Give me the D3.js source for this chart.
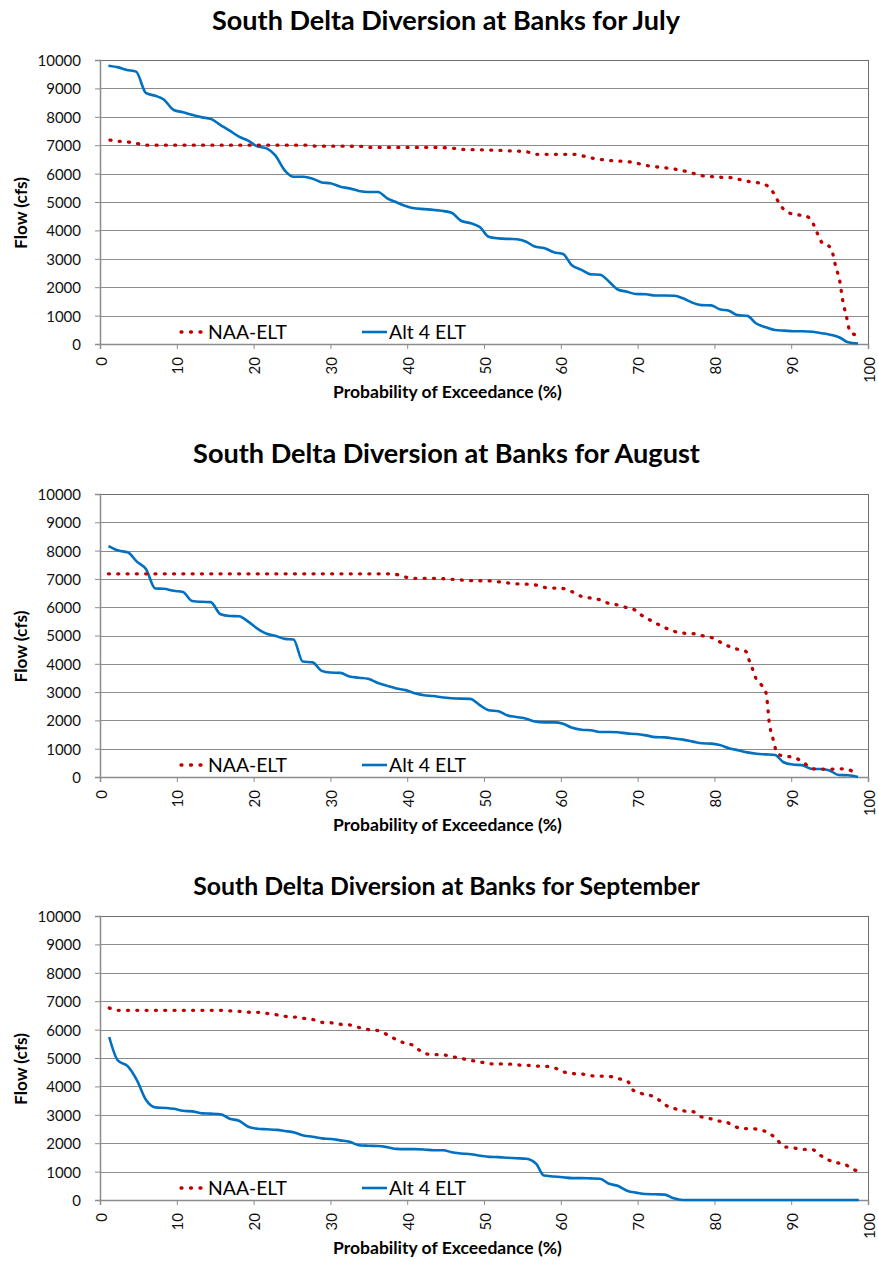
<!DOCTYPE html>
<html>
<head>
<meta charset="utf-8">
<script src="https://cdn.jsdelivr.net/npm/d3@7"></script>
<style>
  html, body { margin: 0; padding: 0; background: #fff; }
  svg { display: block; }
  text { font-family: Lato, "Open Sans", sans-serif; }
</style>
</head>
<body>
<svg id="chart" width="878" height="1261"></svg>
<script>
// ---------- data ----------
const titles = [
  "South Delta Diversion at Banks for July",
  "South Delta Diversion at Banks for August",
  "South Delta Diversion at Banks for September"
];
const seriesNames = ["NAA-ELT", "Alt 4 ELT"];
const xTicks = [0, 10, 20, 30, 40, 50, 60, 70, 80, 90, 100];
const yTicks = [0, 1000, 2000, 3000, 4000, 5000, 6000, 7000, 8000, 9000, 10000];
const xTitle = "Probability of Exceedance (%)";
const yTitle = "Flow (cfs)";

// [probability of exceedance %, flow cfs]
const julyNAA = [[1.3,7180],[2.4,7140],[3.7,7110],[4.8,7060],[6.1,7000],[27,7000],[28,6970],[34,6960],[35.2,6920],[43.6,6920],[46,6890],[47.3,6850],[50.8,6830],[53.4,6800],[55.5,6770],[56.8,6680],[61.6,6680],[62.9,6620],[64.2,6540],[66.4,6460],[69,6410],[70,6360],[71.3,6280],[73.7,6200],[75,6150],[76.1,6090],[77.2,6010],[78.3,5930],[79.8,5890],[80.9,5870],[82.2,5860],[83.2,5800],[84.5,5720],[85.6,5680],[86.7,5600],[87.6,5360],[88.2,5070],[88.9,4780],[89.7,4620],[90.8,4550],[91.9,4510],[92.8,4270],[93.4,3900],[94.1,3540],[94.9,3450],[95.4,3190],[95.8,2720],[96.3,2250],[96.7,1550],[97.2,960],[97.7,410],[98.8,300]];
const julyAlt = [[1.1,9800],[2.4,9740],[3.5,9650],[4.7,9590],[6.0,8830],[7.2,8740],[8.3,8610],[9.6,8240],[10.8,8160],[12.1,8060],[13.3,7980],[14.4,7930],[15.7,7710],[16.9,7510],[18.1,7300],[19.3,7160],[20.4,6970],[21.7,6890],[22.8,6650],[24.1,6100],[25.2,5890],[26.5,5890],[27.7,5820],[28.9,5690],[30,5660],[31.3,5540],[32.5,5480],[33.7,5390],[34.9,5350],[36.2,5350],[37.4,5130],[38.6,4990],[39.8,4860],[40.9,4780],[42.2,4750],[43.5,4720],[44.5,4690],[45.8,4620],[47.0,4340],[48.3,4250],[49.5,4110],[50.6,3780],[51.9,3720],[53.2,3700],[54.3,3690],[55.5,3600],[56.6,3430],[57.9,3370],[59.1,3230],[60.3,3170],[61.4,2780],[62.7,2610],[63.9,2450],[65.1,2440],[66.3,2190],[67.4,1920],[68.6,1840],[69.8,1760],[71.1,1750],[72.3,1710],[73.5,1710],[74.8,1700],[75.9,1610],[77.1,1460],[78.3,1370],[79.6,1360],[80.7,1220],[81.9,1170],[83.0,1020],[84.3,990],[85.4,730],[86.7,590],[87.9,490],[89.1,470],[90.3,450],[91.5,450],[92.8,430],[94.0,380],[95.2,320],[96.3,230],[97.4,60],[98.7,20]];

const augNAA = [[1.1,7180],[37.8,7180],[38.9,7140],[40.0,7050],[41.3,7020],[43.6,7020],[46.0,6980],[48.4,6940],[50.8,6930],[52.1,6890],[54.5,6820],[55.8,6810],[56.8,6780],[58.1,6690],[60.3,6660],[61.6,6530],[62.7,6380],[64.2,6310],[65.1,6260],[66.4,6120],[67.4,6080],[68.5,5990],[69.6,5910],[70.5,5720],[71.6,5550],[72.7,5390],[73.7,5260],[75.0,5130],[76.1,5080],[77.4,5060],[78.5,4990],[79.8,4910],[80.6,4790],[81.7,4640],[82.8,4530],[84.1,4440],[84.5,4140],[85.0,3790],[85.4,3490],[86.1,3260],[86.7,2990],[86.9,2610],[87.1,2020],[87.6,1380],[88.0,960],[88.4,790],[89.5,730],[90.6,670],[91.7,490],[92.8,290],[94.1,280],[95.2,280],[96.5,290],[97.5,260],[98.6,20]];
const augAlt = [[1.1,8160],[2.4,8000],[3.6,7940],[4.8,7610],[6.0,7340],[7.2,6660],[8.3,6650],[9.6,6580],[10.8,6540],[12.0,6220],[13.3,6190],[14.4,6180],[15.7,5750],[16.9,5690],[18.1,5680],[19.3,5490],[20.4,5260],[21.7,5060],[22.8,4990],[24.1,4880],[25.2,4860],[26.4,4080],[27.7,4050],[28.8,3760],[30,3690],[31.3,3680],[32.5,3550],[33.7,3510],[34.9,3470],[36.2,3320],[37.4,3220],[38.6,3130],[39.8,3070],[41.0,2960],[42.2,2890],[43.4,2860],[44.5,2820],[45.8,2780],[48.2,2760],[49.4,2550],[50.6,2360],[51.9,2320],[53.0,2180],[54.2,2120],[55.5,2060],[56.6,1960],[57.9,1930],[59.1,1930],[60.3,1880],[61.4,1750],[62.7,1670],[63.9,1650],[65.1,1590],[66.4,1590],[67.4,1580],[68.6,1540],[69.8,1520],[71.1,1470],[72.3,1410],[73.5,1400],[74.8,1360],[75.9,1320],[77.2,1250],[78.4,1190],[79.6,1180],[80.7,1130],[81.9,1020],[83.2,940],[84.3,870],[85.5,820],[86.7,800],[87.9,780],[89.0,520],[90.2,440],[91.4,420],[92.6,290],[93.8,280],[94.9,240],[96.2,70],[97.4,60],[98.7,0]];

const sepNAA = [[1.2,6760],[2.4,6680],[15.9,6680],[17.0,6660],[18.3,6640],[19.6,6610],[20.7,6610],[22.0,6560],[23.0,6520],[24.3,6460],[25.4,6440],[26.7,6390],[27.8,6350],[29.0,6250],[30.2,6240],[31.5,6180],[32.6,6160],[33.8,6070],[35.0,6000],[36.3,5960],[37.4,5820],[38.5,5660],[39.6,5530],[40.9,5430],[41.7,5250],[42.8,5130],[43.9,5120],[45.2,5090],[46.2,5030],[47.5,4960],[48.6,4900],[49.9,4840],[51.2,4790],[52.3,4790],[53.6,4780],[54.7,4750],[56.0,4740],[57.3,4710],[58.4,4700],[59.4,4630],[60.5,4500],[61.6,4450],[62.9,4430],[64.2,4370],[65.5,4360],[66.6,4340],[67.7,4260],[68.8,4150],[69.4,3870],[70.5,3750],[71.6,3690],[72.8,3520],[73.6,3350],[74.8,3220],[75.9,3140],[77.2,3110],[78.1,2950],[79.4,2870],[80.4,2790],[81.5,2750],[82.6,2590],[83.7,2520],[85.0,2510],[86.1,2460],[87.2,2340],[88.2,2110],[89.0,1880],[90.2,1840],[91.5,1780],[92.7,1780],[93.7,1590],[94.7,1430],[95.8,1320],[97.0,1250],[98.1,1080],[98.8,1000]];
const sepAlt = [[1.2,5740],[2.3,4920],[3.6,4710],[4.8,4220],[6.0,3520],[7.2,3260],[8.5,3240],[9.6,3210],[10.8,3140],[12.0,3120],[13.3,3050],[14.4,3040],[15.7,3020],[16.9,2860],[18.1,2790],[19.3,2580],[20.5,2510],[21.7,2490],[23.0,2470],[24.1,2430],[25.3,2380],[26.5,2270],[27.7,2230],[28.9,2170],[30.1,2150],[31.3,2100],[32.5,2050],[33.7,1930],[34.9,1910],[36.2,1900],[37.4,1860],[38.6,1800],[39.8,1790],[40.9,1790],[42.2,1780],[43.5,1750],[44.7,1750],[45.8,1680],[47.1,1640],[48.3,1610],[49.5,1560],[50.7,1520],[51.9,1510],[53.0,1490],[54.2,1470],[55.5,1450],[56.8,1270],[57.8,860],[59.1,830],[60.3,800],[61.5,770],[62.7,770],[63.9,760],[65.1,750],[66.3,570],[67.4,500],[68.7,320],[69.8,260],[71.0,210],[72.3,200],[73.5,190],[74.7,60],[75.9,0],[98.8,0]];

// ---------- layout ----------
const W = 878, H = 1261;
const plotLeft = 100, plotRight = 868;
const layout = [
  { top: 60,  bottom: 344,  titleY: 30,  titleX: 446,   titleW: 468 },
  { top: 494, bottom: 777,  titleY: 463, titleX: 446.5, titleW: 507 },
  { top: 916, bottom: 1200, titleY: 895, titleX: 446.5, titleW: 507 }
];
const panelData = [
  { title: titles[0], naa: julyNAA, alt: julyAlt },
  { title: titles[1], naa: augNAA,  alt: augAlt },
  { title: titles[2], naa: sepNAA,  alt: sepAlt }
];

const RED = "#C00000", BLUE = "#0070C0", GRID = "#8c8c8c", TXT = "#111";
const svg = d3.select("#chart");
svg.append("rect").attr("width", W).attr("height", H).attr("fill", "#fff");

function fitWidth(sel, target, base) {
  const len = sel.node().getComputedTextLength();
  if (len > 0) sel.attr("font-size", base * target / len);
}

panelData.forEach((pd, i) => {
  const L = layout[i];
  const x = d3.scaleLinear().domain([0, 100]).range([plotLeft, plotRight]);
  const y = d3.scaleLinear().domain([0, 10000]).range([L.bottom, L.top]);
  const g = svg.append("g");

  // title
  const t = g.append("text")
    .attr("x", L.titleX).attr("y", L.titleY)
    .attr("text-anchor", "middle").attr("font-weight", "bold")
    .attr("font-size", 24).attr("fill", "#000").text(pd.title);
  fitWidth(t, L.titleW, 24);

  // gridlines
  g.append("g").selectAll("line").data(yTicks.filter(v => v > 0)).join("line")
    .attr("x1", plotLeft).attr("x2", plotRight)
    .attr("y1", d => Math.round(y(d)) + 0.5).attr("y2", d => Math.round(y(d)) + 0.5)
    .attr("stroke", GRID).attr("stroke-width", 1);
  // right / top border
  g.append("line").attr("x1", plotRight + 0.5).attr("x2", plotRight + 0.5)
    .attr("y1", Math.round(L.top) + 0.5).attr("y2", L.bottom)
    .attr("stroke", "#6e6e6e").attr("stroke-width", 1);
  g.append("line").attr("x1", plotLeft).attr("x2", plotRight + 1)
    .attr("y1", Math.round(L.top) + 0.5).attr("y2", Math.round(L.top) + 0.5)
    .attr("stroke", "#6e6e6e").attr("stroke-width", 1);

  // y axis
  const ya = g.append("g").attr("transform", `translate(${plotLeft},0)`)
    .call(d3.axisLeft(y).tickValues(yTicks).tickSize(5).tickPadding(14).tickFormat(d3.format("d")));
  ya.select(".domain").attr("stroke", GRID).attr("stroke-width", 1.5);
  ya.selectAll(".tick line").attr("stroke", GRID);
  ya.selectAll(".tick text").attr("font-size", 15).attr("fill", TXT)
    .attr("font-family", "Lato, sans-serif").attr("dy", "0.36em");

  // x axis
  const xa = g.append("g").attr("transform", `translate(0,${L.bottom})`)
    .call(d3.axisBottom(x).tickValues(xTicks).tickSize(5).tickFormat(d3.format("d")));
  xa.select(".domain").attr("stroke", GRID).attr("stroke-width", 1.5);
  xa.selectAll(".tick line").attr("stroke", GRID);
  xa.selectAll(".tick text")
    .attr("transform", "rotate(-90)")
    .attr("text-anchor", "end")
    .attr("x", -13).attr("y", 6).attr("dy", 0)
    .attr("font-size", 15).attr("fill", TXT).attr("font-family", "Lato, sans-serif");

  // axis titles
  const xt = g.append("text").attr("x", 447.5).attr("y", L.bottom + 54)
    .attr("text-anchor", "middle").attr("font-weight", "bold")
    .attr("font-size", 15).attr("fill", "#000").text(xTitle);
  fitWidth(xt, 229, 15);
  const yc = (L.top + L.bottom) / 2 + 11;
  const yt = g.append("text").attr("transform", `translate(27,${yc}) rotate(-90)`)
    .attr("text-anchor", "middle").attr("font-weight", "bold")
    .attr("font-size", 15).attr("fill", "#000").text(yTitle);
  fitWidth(yt, 72, 15);

  // lines
  const line = d3.line().x(d => x(d[0])).y(d => y(d[1])).curve(d3.curveMonotoneX);
  g.append("path").datum(pd.alt).attr("d", line)
    .attr("fill", "none").attr("stroke", BLUE).attr("stroke-width", 2.6)
    .attr("stroke-linejoin", "round");
  g.append("path").datum(pd.naa).attr("d", line)
    .attr("fill", "none").attr("stroke", RED).attr("stroke-width", 3.3)
    .attr("stroke-linecap", "round").attr("stroke-dasharray", "1 8.3");

  // legend
  const ly = L.bottom - 12;
  g.append("line").attr("x1", 181).attr("x2", 203).attr("y1", ly).attr("y2", ly)
    .attr("stroke", RED).attr("stroke-width", 3.3).attr("stroke-linecap", "round")
    .attr("stroke-dasharray", "1 8.5");
  const l1 = g.append("text").attr("x", 208).attr("y", L.bottom - 5)
    .attr("font-size", 20).attr("fill", "#000").text(seriesNames[0]);
  fitWidth(l1, 79, 20);
  g.append("line").attr("x1", 362).attr("x2", 387).attr("y1", ly).attr("y2", ly)
    .attr("stroke", BLUE).attr("stroke-width", 2.6);
  const l2 = g.append("text").attr("x", 389).attr("y", L.bottom - 5)
    .attr("font-size", 20).attr("fill", "#000").text(seriesNames[1]);
  fitWidth(l2, 77, 20);
});
</script>
</body>
</html>
